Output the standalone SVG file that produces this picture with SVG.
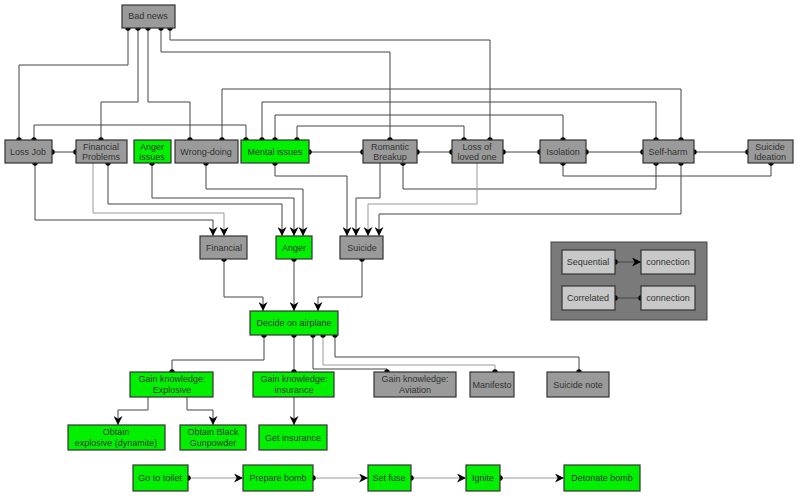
<svg xmlns="http://www.w3.org/2000/svg" width="797" height="498" viewBox="0 0 797 498">
<style>
.n rect{stroke:#333;stroke-width:1.2}
.g rect{fill:#9a9a9a}
.v rect{fill:#00f000}
.l rect{fill:#c8c8c8}
text{font-family:"Liberation Sans",Arial,sans-serif;font-size:9px;fill:#333;text-anchor:middle}
#edges polyline{fill:none;stroke:#444;stroke-width:1}
#edges .lt{stroke:#999}
.c{marker-start:url(#dot);marker-end:url(#dot)}
.s{marker-start:url(#dot);marker-end:url(#arr)}
.a{marker-end:url(#arr)}
</style>
<defs>
<marker id="dot" viewBox="0 0 6 6" refX="3" refY="3" markerWidth="6" markerHeight="6" markerUnits="userSpaceOnUse"><circle cx="3" cy="3" r="2.7" fill="#000"/></marker>
<marker id="arr" viewBox="0 0 10 10" refX="10" refY="5" markerWidth="9" markerHeight="9" markerUnits="userSpaceOnUse" orient="auto"><path d="M0,0 L10,5 L0,10 L3,5 Z" fill="#000"/></marker>
</defs>
<rect width="797" height="498" fill="#fff"/>
<g id="legend-bg"><rect x="551" y="242" width="156" height="78" fill="#7a7a7a" stroke="#444"/></g>
<g id="edges">
<polyline class="c" points="128,28 128,65 19,65 19,140"/>
<polyline class="c" points="138,28 138,102 101,102 101,140"/>
<polyline class="c" points="148,28 148,102 190,102 190,140"/>
<polyline class="c" points="161,28 161,52 390,52 390,140"/>
<polyline class="c" points="170,28 170,40 490,40 490,140"/>
<polyline class="c" points="34,140 34,125 246,125 246,140"/>
<polyline class="c" points="222,140 222,89 681,89 681,140"/>
<polyline class="c" points="262,140 262,102 656,102 656,140"/>
<polyline class="c" points="275,140 275,115 563,115 563,140"/>
<polyline class="c" points="297,140 297,126 464,126 464,140"/>
<polyline class="c" points="52,152 76,152"/>
<polyline class="c" points="309,152 363,152"/>
<polyline class="c" points="417,152 452,152"/>
<polyline class="c" points="503,152 540,152"/>
<polyline class="c" points="586,152 643,152"/>
<polyline class="c" points="694,152 748,152"/>
<polyline class="c" points="563,163 563,176 771,176 771,163"/>
<polyline class="c" points="403,163 403,189 656,189 656,163"/>
<polyline class="s" points="35,163 35,220 213,220 213,236"/>
<polyline class="a lt" points="93,163 93,213 224,213 224,236"/>
<polyline class="s" points="108,163 108,204 282,204 282,236"/>
<polyline class="s" points="152,163 152,198 294,198 294,236"/>
<polyline class="s" points="206,163 206,189 303,189 303,236"/>
<polyline class="s" points="275,163 275,176 347,176 347,236"/>
<polyline class="a" points="380,163 380,198 356,198 356,236"/>
<polyline class="a lt" points="477,163 477,204 368,204 368,236"/>
<polyline class="s" points="681,163 681,214 379,214 379,236"/>
<polyline class="s" points="224,259 224,297 263,297 263,311"/>
<polyline class="s" points="294,259 294,311"/>
<polyline class="s" points="362,259 362,297 318,297 318,311"/>
<polyline class="c" points="264,335 264,360 172,360 172,372"/>
<polyline class="c" points="294,335 294,372"/>
<polyline class="c" points="313,335 313,369 387,369 387,372"/>
<polyline class="c lt" points="323,335 323,365 495,365 495,372"/>
<polyline class="c" points="335,335 335,357 579,357 579,372"/>
<polyline class="a" points="148,397 148,410 118,410 118,425"/>
<polyline class="a" points="187,397 187,410 213,410 213,425"/>
<polyline class="a" points="294,397 294,425"/>
<polyline class="s lt" points="188,478 243,478"/>
<polyline class="s lt" points="313,478 368,478"/>
<polyline class="s lt" points="411,478 466,478"/>
<polyline class="s lt" points="500,478 564,478"/>
<polyline class="s" points="615,262 641,262"/>
<polyline class="c" points="615,298 641,298"/>
</g>
<g id="bad-news" class="n g"><rect x="122" y="5" width="53" height="23"/><text x="148" y="19">Bad news</text></g>
<g id="loss-job" class="n g"><rect x="5" y="140" width="47" height="23"/><text x="28" y="155">Loss Job</text></g>
<g id="financial-problems" class="n g"><rect x="76" y="140" width="51" height="23"/><text x="101" y="150">Financial</text><text x="101" y="160">Problems</text></g>
<g id="anger-issues" class="n v"><rect x="134" y="140" width="37" height="23"/><text x="152" y="150">Anger</text><text x="152" y="160">issues</text></g>
<g id="wrong-doing" class="n g"><rect x="175" y="140" width="63" height="23"/><text x="206" y="155">Wrong-doing</text></g>
<g id="mental-issues" class="n v"><rect x="241" y="140" width="68" height="23"/><text x="275" y="155">Mental issues</text></g>
<g id="romantic-breakup" class="n g"><rect x="363" y="140" width="54" height="23"/><text x="390" y="150">Romantic</text><text x="390" y="160">Breakup</text></g>
<g id="loss-loved-one" class="n g"><rect x="452" y="140" width="51" height="23"/><text x="477" y="150">Loss of</text><text x="477" y="160">loved one</text></g>
<g id="isolation" class="n g"><rect x="540" y="140" width="46" height="23"/><text x="563" y="155">Isolation</text></g>
<g id="self-harm" class="n g"><rect x="643" y="140" width="51" height="23"/><text x="668" y="155">Self-harm</text></g>
<g id="suicide-ideation" class="n g"><rect x="748" y="140" width="45" height="23"/><text x="770" y="150">Suicide</text><text x="770" y="160">Ideation</text></g>
<g id="financial" class="n g"><rect x="200" y="236" width="47" height="23"/><text x="224" y="251">Financial</text></g>
<g id="anger" class="n v"><rect x="276" y="236" width="36" height="23"/><text x="294" y="251">Anger</text></g>
<g id="suicide" class="n g"><rect x="340" y="236" width="43" height="23"/><text x="362" y="251">Suicide</text></g>
<g id="decide" class="n v"><rect x="250" y="311" width="88" height="24"/><text x="294" y="326">Decide on airplane</text></g>
<g id="gk-explosive" class="n v"><rect x="130" y="372" width="83" height="25"/><text x="172" y="382">Gain knowledge:</text><text x="172" y="393">Explosive</text></g>
<g id="gk-insurance" class="n v"><rect x="253" y="372" width="81" height="25"/><text x="294" y="382">Gain knowledge:</text><text x="294" y="393">insurance</text></g>
<g id="gk-aviation" class="n g"><rect x="374" y="372" width="82" height="25"/><text x="415" y="382">Gain knowledge:</text><text x="415" y="393">Aviation</text></g>
<g id="manifesto" class="n g"><rect x="470" y="372" width="44" height="25"/><text x="492" y="388">Manifesto</text></g>
<g id="suicide-note" class="n g"><rect x="547" y="372" width="62" height="25"/><text x="578" y="388">Suicide note</text></g>
<g id="obtain-dynamite" class="n v"><rect x="68" y="425" width="97" height="25"/><text x="116" y="435">Obtain</text><text x="116" y="446">explosive (dynamite)</text></g>
<g id="obtain-gunpowder" class="n v"><rect x="180" y="425" width="66" height="25"/><text x="213" y="435">Obtain Black</text><text x="213" y="446">Gunpowder</text></g>
<g id="get-insurance" class="n v"><rect x="259" y="425" width="68" height="25"/><text x="293" y="441">Get insurance</text></g>
<g id="toilet" class="n v"><rect x="133" y="465" width="55" height="26"/><text x="160" y="481">Go to toilet</text></g>
<g id="prepare" class="n v"><rect x="243" y="465" width="70" height="26"/><text x="278" y="481">Prepare bomb</text></g>
<g id="fuse" class="n v"><rect x="368" y="465" width="43" height="26"/><text x="389" y="481">Set fuse</text></g>
<g id="ignite" class="n v"><rect x="466" y="465" width="34" height="26"/><text x="483" y="481">Ignite</text></g>
<g id="detonate" class="n v"><rect x="564" y="465" width="76" height="26"/><text x="602" y="481">Detonate bomb</text></g>
<g id="leg-seq" class="n l"><rect x="562" y="250" width="53" height="24"/><text x="588" y="265">Sequential</text></g>
<g id="leg-con1" class="n l"><rect x="641" y="250" width="54" height="24"/><text x="668" y="265">connection</text></g>
<g id="leg-cor" class="n l"><rect x="562" y="286" width="53" height="24"/><text x="588" y="301">Correlated</text></g>
<g id="leg-con2" class="n l"><rect x="641" y="286" width="54" height="24"/><text x="668" y="301">connection</text></g>
</svg>
